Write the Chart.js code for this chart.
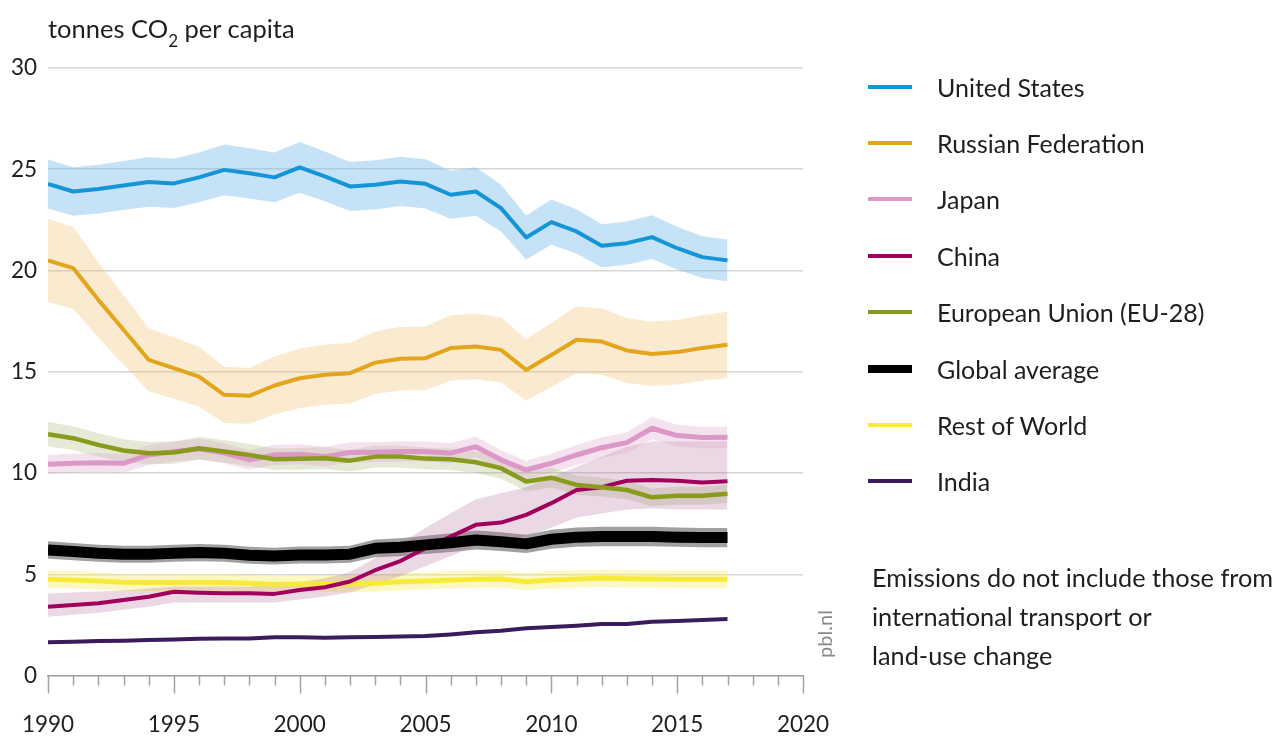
<!DOCTYPE html>
<html lang="en">
<head>
<meta charset="utf-8">
<title>CO2 emissions per capita</title>
<script src="https://cdn.jsdelivr.net/npm/chart.js@4.4.1/dist/chart.umd.min.js"></script>
<style>
  html,body{margin:0;padding:0;background:#fff;}
  body{width:1280px;height:738px;position:relative;overflow:hidden;font-family:Lato,"Noto Sans",sans-serif;color:#1e1e1e;}
  #wrap{position:absolute;left:0;top:0;width:1280px;height:738px;}
  #unit{position:absolute;left:48px;top:13px;font-size:25.5px;white-space:nowrap;}
  #unit sub{font-size:17px;vertical-align:-9px;line-height:0;}
  #legend{position:absolute;left:868px;top:0;width:412px;height:500px;}
  .row{position:absolute;left:0;height:30px;display:flex;align-items:center;white-space:nowrap;font-size:25px;}
  .swatch{width:44px;margin-right:25px;}
  #note{position:absolute;left:872px;top:558px;font-size:25.3px;line-height:39px;white-space:nowrap;}
  #src{position:absolute;left:789px;top:622px;width:70px;height:24px;line-height:24px;text-align:center;
       font-size:20px;color:#8a8a8a;transform:rotate(-90deg);}
</style>
</head>
<body>
<div id="wrap"><canvas id="co2Chart" width="1280" height="738"></canvas></div>
<div id="unit">tonnes CO<sub>2</sub> per capita</div>
<div id="legend"></div>
<div id="note">Emissions do not include those from<br>international transport or<br>land-use change</div>
<div id="src">pbl.nl</div>
<script>
/* ---------- dados ---------- */
const years = [1990,1991,1992,1993,1994,1995,1996,1997,1998,1999,2000,2001,2002,2003,
               2004,2005,2006,2007,2008,2009,2010,2011,2012,2013,2014,2015,2016,2017];

const unitedStates = [24.27,23.9,24.02,24.2,24.37,24.3,24.6,24.97,24.8,24.6,25.09,24.65,24.15,24.23,
                      24.4,24.28,23.74,23.9,23.08,21.63,22.39,21.93,21.22,21.35,21.65,21.1,20.66,20.5];
const russia = [20.5,20.12,18.55,17.07,15.59,15.18,14.76,13.86,13.81,14.32,14.68,14.85,14.93,15.45,
                15.64,15.67,16.17,16.25,16.08,15.09,15.83,16.58,16.49,16.05,15.88,15.97,16.17,16.33];
const japan = [10.43,10.48,10.51,10.48,10.89,11.06,11.19,10.98,10.65,10.89,10.93,10.81,11.01,11.03,
               11.06,11.06,10.98,11.3,10.65,10.15,10.48,10.89,11.25,11.5,12.21,11.85,11.75,11.77];
const china = [3.4,3.48,3.57,3.73,3.89,4.14,4.09,4.06,4.06,4.03,4.22,4.36,4.64,5.2,
               5.65,6.28,6.86,7.44,7.55,7.93,8.51,9.16,9.3,9.62,9.66,9.62,9.53,9.59];
const chinaLow = [2.9,3.0,3.1,3.25,3.4,3.6,3.6,3.6,3.6,3.6,3.75,3.9,4.1,4.5,
                  4.9,5.4,5.9,6.4,6.6,6.9,7.3,7.8,8.0,8.2,8.25,8.2,8.2,8.2];
const chinaHigh = [4.05,4.1,4.15,4.2,4.3,4.4,4.4,4.4,4.4,4.45,4.6,4.8,5.1,5.8,
                   6.5,7.3,8.0,8.7,9.0,9.3,9.8,10.3,10.8,11.3,11.55,11.55,11.55,11.55];
const eu28 = [11.92,11.72,11.39,11.11,10.98,11.01,11.22,11.06,10.89,10.68,10.7,10.73,10.61,10.81,
              10.81,10.71,10.68,10.53,10.24,9.58,9.77,9.41,9.3,9.16,8.8,8.88,8.88,8.97];
const globalAvg = [6.2,6.12,6.04,5.99,5.99,6.04,6.07,6.04,5.94,5.9,5.95,5.95,5.99,6.28,
                   6.33,6.45,6.56,6.69,6.61,6.5,6.73,6.83,6.86,6.86,6.86,6.83,6.81,6.81];
const restOfWorld = [4.75,4.72,4.67,4.6,4.59,4.59,4.6,4.59,4.55,4.5,4.52,4.52,4.52,4.55,
                     4.63,4.67,4.72,4.75,4.77,4.63,4.72,4.77,4.8,4.78,4.77,4.75,4.75,4.75];
const india = [1.64,1.67,1.7,1.72,1.75,1.78,1.81,1.83,1.83,1.89,1.89,1.87,1.89,1.9,
               1.92,1.95,2.03,2.13,2.21,2.33,2.4,2.46,2.54,2.54,2.66,2.69,2.74,2.79];

// incerteza relativa (faixa ±) por série; China tem faixa própria
const uncUS = 0.05, uncRU = 0.10, uncJP = 0.045, uncEU = 0.05, uncGlobal = 0.07, uncRoW = 0.09;

const yTicks = [0,5,10,15,20,25,30];
const xTicks = [1990,1995,2000,2005,2010,2015,2020];

/* ---------- séries (nome, valores, cor, faixa) ---------- */
// z = ordem de desenho (menor fica por cima)
const series = [
  {name:'United States',        data:unitedStates, color:'#1496d6', width:4,  band:'rgba(120,185,235,0.42)', unc:uncUS, z:1},
  {name:'Russian Federation',   data:russia,       color:'#e3a51c', width:4,  band:'rgba(235,190,110,0.32)', unc:uncRU, z:2},
  {name:'Japan',                data:japan,        color:'#dc98c6', width:5,  band:'rgba(220,160,200,0.30)', unc:uncJP, z:6},
  {name:'China',                data:china,        color:'#a0005c', width:4,  band:'rgba(170,100,150,0.25)', low:chinaLow, high:chinaHigh, z:5},
  {name:'European Union (EU-28)',data:eu28,        color:'#8a9a1c', width:4.5,band:'rgba(150,170,90,0.25)',  unc:uncEU, z:4},
  {name:'Global average',       data:globalAvg,    color:'#000000', width:11, band:'rgba(110,110,110,0.65)', unc:uncGlobal, z:3, legendW:8},
  {name:'Rest of World',        data:restOfWorld,  color:'#f7ea3a', width:5,  band:'rgba(250,240,120,0.45)', unc:uncRoW, z:7},
  {name:'India',                data:india,        color:'#3a1b5c', width:4,  z:8}
];

const pts = (vals)=>years.map((yr,i)=>({x:yr,y:vals[i]}));

const datasets = [];
series.forEach(s=>{
  if(!s.band) return;
  const hi = s.high || s.data.map(v=>v*(1+s.unc));
  const lo = s.low  || s.data.map(v=>v*(1-s.unc));
  datasets.push({data:pts(hi), borderWidth:0, pointRadius:0, backgroundColor:s.band, fill:'+1', order:20});
  datasets.push({data:pts(lo), borderWidth:0, pointRadius:0, fill:false, order:20});
});
series.forEach(s=>{
  datasets.push({label:s.name, data:pts(s.data), borderColor:s.color, borderWidth:s.width,
    pointRadius:0, fill:false, tension:0, borderJoinStyle:'round', borderCapStyle:'butt', order:s.z});
});

/* ---------- marcas do eixo x (anos) ---------- */
const axisTicks = {
  id:'axisTicks',
  afterDraw(chart){
    const sx = chart.scales.x, ctx = chart.ctx, y0 = sx.top;
    ctx.save();
    ctx.strokeStyle = '#a3a3a3'; ctx.lineWidth = 1.5;
    for(let yr = sx.min; yr <= sx.max; yr++){
      const px = Math.round(sx.getPixelForValue(yr)) + 0.5;
      ctx.beginPath(); ctx.moveTo(px, y0); ctx.lineTo(px, y0 + (yr % 5 === 0 ? 18 : 10)); ctx.stroke();
    }
    ctx.restore();
  }
};

const tickFont = {family:'Lato, "Noto Sans", sans-serif', size:22.5};

new Chart(document.getElementById('co2Chart'), {
  type:'line',
  data:{datasets},
  plugins:[axisTicks],
  options:{
    responsive:false, animation:false, events:[],
    layout:{padding:{left:0, top:68, right:477, bottom:0}},
    plugins:{legend:{display:false}, tooltip:{enabled:false}},
    scales:{
      x:{
        type:'linear', min:1990, max:2020,
        afterFit(s){ s.height = 62.5; },
        afterBuildTicks(s){ s.ticks = xTicks.map(v=>({value:v})); },
        ticks:{font:tickFont, color:'#1e1e1e', padding:3, maxRotation:0,
               callback:(v)=>String(v)},
        // marcas invisíveis: só empurram os rótulos para baixo
        grid:{display:true, drawOnChartArea:false, drawTicks:true, tickLength:33, tickColor:'rgba(0,0,0,0)'},
        border:{display:true, color:'#a3a3a3', width:1.5}
      },
      y:{
        min:0, max:30,
        afterFit(s){ s.width = 48; },
        afterBuildTicks(s){ s.ticks = yTicks.map(v=>({value:v})); },
        ticks:{font:tickFont, color:'#1e1e1e', padding:11},
        grid:{color:'#d6d6d6', lineWidth:1.5, drawTicks:false},
        border:{display:false}
      }
    }
  }
});

/* ---------- legenda ---------- */
const legendRowsY = [87,143,199,256,312,369,425,481];
const lg = document.getElementById('legend');
series.forEach((s,i)=>{
  const row = document.createElement('div');
  row.className = 'row';
  row.style.top = (legendRowsY[i]-15)+'px';
  row.innerHTML = `<span class="swatch" style="height:${s.legendW||4}px;background:${s.color}"></span>${s.name}`;
  lg.appendChild(row);
});
</script>
</body>
</html>
